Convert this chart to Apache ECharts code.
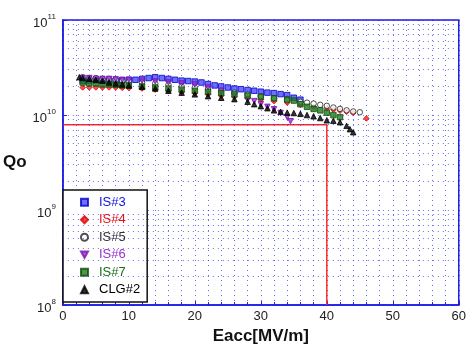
<!DOCTYPE html>
<html>
<head>
<meta charset="utf-8">
<script src="https://cdn.jsdelivr.net/npm/echarts@6/dist/echarts.min.js"></script>
<style>
  html, body { margin: 0; padding: 0; background: #fff; }
  #chart { width: 469px; height: 350px; }
</style>
</head>
<body>
<div id="chart"></div>
<script>
// Qo vs Eacc (Q in units of 1e10)
var is3 = [[3,2.3],[4,2.3],[5,2.32],[6,2.32],[7,2.3],[8,2.3],[9,2.32],[10,2.35],[11,2.35],[12,2.4],[13,2.45],[14,2.5],[15,2.45],[16,2.4],[17,2.35],[18,2.3],[19,2.28],[20,2.25],[21,2.2],[22,2.12],[23,2.05],[24,2.0],[25,1.95],[26,1.9],[27,1.87],[28,1.83],[29,1.8],[30,1.76],[31,1.72],[32,1.7],[33,1.66],[34,1.62],[35,1.52],[36,1.45]];
var is4 = [[3,1.95],[4,1.95],[5,1.95],[6,1.95],[7,1.95],[8,1.95],[9,1.93],[10,1.92],[12,1.9],[14,1.85],[16,1.8],[18,1.75],[20,1.7],[22,1.65],[24,1.6],[26,1.55],[28,1.5],[30,1.45],[32,1.4],[34,1.35],[36,1.28],[38,1.22],[40,1.17],[41,1.14],[42,1.11],[43,1.08],[44,1.05],[46,0.92]];
var is5 = [[3,2.5],[4,2.45],[5,2.45],[6,2.4],[7,2.4],[8,2.35],[9,2.3],[10,2.25],[12,2.2],[14,2.15],[16,2.08],[18,2.0],[20,1.95],[22,1.88],[24,1.8],[26,1.72],[28,1.65],[30,1.58],[32,1.5],[34,1.43],[36,1.38],[37,1.35],[38,1.32],[39,1.28],[40,1.25],[41,1.2],[42,1.16],[43,1.12],[44,1.09],[45,1.07]];
var is6 = [[3,2.45],[4,2.45],[5,2.4],[6,2.4],[7,2.4],[8,2.38],[9,2.35],[10,2.35],[12,2.3],[14,2.25],[16,2.2],[18,2.15],[20,2.1],[22,1.95],[24,1.8],[26,1.6],[28,1.45],[29,1.4],[30,1.3],[31,1.22],[32,1.15],[33,1.05],[34,0.95],[34.5,0.86]];
var is7 = [[3,2.2],[4,2.15],[5,2.15],[6,2.1],[7,2.1],[8,2.08],[9,2.05],[10,2.05],[12,2.0],[14,1.95],[16,1.9],[18,1.85],[20,1.8],[22,1.75],[24,1.7],[26,1.65],[28,1.6],[30,1.55],[32,1.5],[34,1.46],[35,1.42],[36,1.3],[37,1.22],[38,1.16],[39,1.12],[40,1.06],[41,1.0],[42,0.95]];
var clg2 = [[2.5,2.5],[3,2.45],[4,2.4],[5,2.35],[6,2.3],[7,2.2],[8,2.15],[9,2.1],[10,2.05],[12,1.98],[14,1.9],[16,1.8],[18,1.72],[20,1.65],[22,1.58],[24,1.52],[26,1.47],[28,1.38],[29,1.3],[30,1.24],[31,1.18],[32,1.12],[33,1.08],[34,1.06],[35,1.05],[36,1.03],[37,1.0],[38,0.97],[39,0.93],[40,0.88],[41,0.87],[42,0.84],[43,0.77],[43.5,0.71],[44,0.66]];

var names = ['IS#3', 'IS#4', 'IS#5', 'IS#6', 'IS#7', 'CLG#2'];
var seriesData = [is3, is4, is5, is6, is7, clg2];

// red limit line at Eacc 40 MV/m, Qo 8e9
var limitLine = [[0, 7.9e9], [40, 7.9e9], [40, 1e8]];

var yTicks = ['10^8', '10^9', '10^10', '10^11'];

var downTri = 'path://M0,0L10,0L5,9Z';
var styles = [
  { symbol: 'rect', color: '#4b4bff', border: '#0000c8', text: '#1010e0' },
  { symbol: 'diamond', color: '#ff2020', border: '#e00000', text: '#ee1111' },
  { symbol: 'circle', color: '#ffffff', border: '#222222', text: '#333333' },
  { symbol: downTri, color: '#9a30d0', border: '#7a10b0', text: '#9a30d0' },
  { symbol: 'rect', color: '#1f7a1f', border: '#0b4d0b', text: '#1b6e1b' },
  { symbol: 'triangle', color: '#000000', border: '#000000', text: '#000000' }
];

var blue = '#1c1ce6';
var gridLine = { color: blue, type: [1, 4], width: 1, opacity: 0.65 };

// dotted minor grid lines of the log axis
var minorY = [];
for (var k = 8; k <= 10; k++) {
  for (var m = 2; m <= 9; m++) minorY.push({ yAxis: m * Math.pow(10, k) });
}

var series = [{
  type: 'line',
  data: limitLine,
  showSymbol: false,
  silent: true,
  lineStyle: { color: '#ff2a2a', width: 1.5 },
  z: 1,
  markLine: {
    silent: true,
    symbol: 'none',
    label: { show: false },
    lineStyle: gridLine,
    data: minorY
  }
}];
names.forEach(function (n, i) {
  var s = styles[i];
  series.push({
    name: n,
    type: 'scatter',
    symbol: s.symbol,
    symbolSize: 5.5,
    z: 3 + i,
    itemStyle: { color: s.color, borderColor: s.border, borderWidth: 1 },
    data: seriesData[i].map(function (p) { return [p[0], p[1] * 1e10]; })
  });
});

var chart = echarts.init(document.getElementById('chart'));
chart.setOption({
  animation: false,
  textStyle: { fontFamily: 'Liberation Sans, Arial, sans-serif' },
  grid: {
    left: 51, right: 3, top: 20, bottom: 38,
    show: true, borderColor: blue, borderWidth: 1.5
  },
  legend: {
    orient: 'vertical',
    left: 63, top: 190,
    backgroundColor: '#fff',
    borderColor: '#111', borderWidth: 1.5, borderRadius: 0,
    padding: [5, 7, 5, 17],
    itemWidth: 7, itemHeight: 7, itemGap: 3,
    selectedMode: false,
    data: names.map(function (n, i) {
      return {
        name: n,
        icon: styles[i].symbol,
        itemStyle: { color: styles[i].color, borderColor: styles[i].border },
        textStyle: { color: styles[i].text, fontSize: 13, lineHeight: 14.5, padding: [0, 0, 0, 6] }
      };
    })
  },
  xAxis: {
    type: 'value',
    min: 0, max: 60, interval: 10,
    name: 'Eacc[MV/m]',
    nameLocation: 'middle',
    nameGap: 20,
    nameTextStyle: { fontSize: 17, fontWeight: 'bold', color: '#111' },
    axisLine: { lineStyle: { color: blue, width: 1.5 } },
    axisTick: { inside: true, length: 4, lineStyle: { color: blue } },
    minorTick: { show: true, splitNumber: 5, length: 3, lineStyle: { color: blue } },
    axisLabel: { fontSize: 13, color: '#222', margin: 5 },
    splitLine: { show: true, lineStyle: gridLine },
    minorSplitLine: { show: true, lineStyle: gridLine }
  },
  yAxis: {
    type: 'log',
    logBase: 10,
    min: 1e8, max: 1e11,
    name: 'Qo',
    nameLocation: 'middle',
    nameRotate: 0,
    nameGap: 28,
    nameTextStyle: { fontSize: 17, fontWeight: 'bold', color: '#111' },
    axisLine: { lineStyle: { color: blue, width: 1.5 } },
    axisTick: { inside: true, length: 4, lineStyle: { color: blue } },
    axisLabel: {
      margin: 7,
      formatter: function (v) {
        var e = Math.round(Math.log10(v));
        var t = yTicks[e - 8].split('^');
        return '{b|' + t[0] + '}{s|' + t[1] + '}';
      },
      rich: {
        b: { fontSize: 13, color: '#222', padding: [6, 0, 0, 0] },
        s: { fontSize: 8, color: '#222', padding: [0, 0, 6, 0] }
      }
    },
    splitLine: { show: true, lineStyle: gridLine }
  },
  series: series
});
</script>
</body>
</html>
